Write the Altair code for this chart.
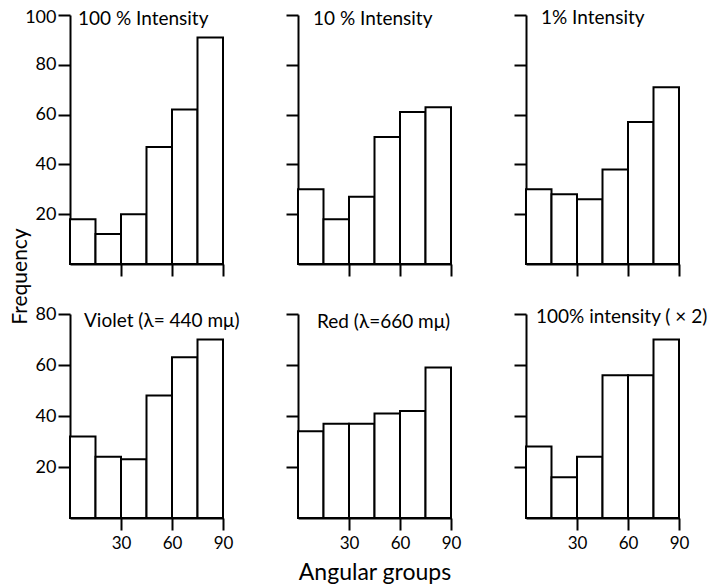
import altair as alt
import pandas as pd

# ---- data ----
bin_starts = [0, 15, 30, 45, 60, 75]
bin_ends = [15, 30, 45, 60, 75, 90]

titles = ["100 % Intensity", "10 % Intensity", "1% Intensity",
          "Violet (λ= 440 mμ)", "Red (λ=660 mμ)", "100% intensity ( × 2)"]
freq_100 = [18, 12, 20, 47, 62, 91]
freq_10 = [30, 18, 27, 51, 61, 63]
freq_1 = [30, 28, 26, 38, 57, 71]
freq_violet = [32, 24, 23, 48, 63, 70]
freq_red = [34, 37, 37, 41, 42, 59]
freq_100x2 = [28, 16, 24, 56, 56, 70]

x_ticks = [30, 60, 90]
y_ticks_top = [20, 40, 60, 80, 100]
y_ticks_bottom = [20, 40, 60, 80]

series = [freq_100, freq_10, freq_1, freq_violet, freq_red, freq_100x2]
# title placement inside each panel (px from plot's left / top, alphabetic baseline)
title_pos = [(8, 10), (15, 10), (15, 8.5), (14, 13), (19, 14), (10, 9)]

FONT = "Lato"


def panel(i):
    row, col = divmod(i, 3)
    freqs = series[i]
    df = pd.DataFrame({"start": bin_starts, "end": bin_ends, "freq": freqs,
                       "base": [0] * len(freqs)})
    ymax = 100 if row == 0 else 80
    yvals = y_ticks_top if row == 0 else y_ticks_bottom
    h = 249 if row == 0 else 204

    xaxis_kw = dict(values=x_ticks, labels=(row == 1), labelFlush=False,
                    labelFontSize=17, labelPadding=5)
    if row == 1 and col == 1:
        xaxis_kw.update(title="Angular groups", titlePadding=10, titleFontSize=23)
    else:
        xaxis_kw.update(title=None)

    yaxis_kw = dict(values=yvals, labels=(col == 0), labelFlush=False,
                    labelFontSize=18,
                    labelOffset={"condition": {"test": "datum.value == 100", "value": 2},
                                 "value": 0})
    if row == 1 and col == 0:
        yaxis_kw.update(title="Frequency", titleX=-50, titleY=-38, titleFontSize=21,
                        titleAlign="center", titleBaseline="middle", titleAngle=270)
    else:
        yaxis_kw.update(title=None)

    bars = alt.Chart(df).mark_rect(
        fill="white", stroke="black", strokeWidth=2
    ).encode(
        x=alt.X("start:Q", scale=alt.Scale(domain=[0, 90], nice=False),
                axis=alt.Axis(**xaxis_kw)),
        x2="end:Q",
        y=alt.Y("freq:Q", scale=alt.Scale(domain=[0, ymax], nice=False),
                axis=alt.Axis(**yaxis_kw)),
        y2="base:Q",
    )
    dx, dy = title_pos[i]
    txt = alt.Chart(pd.DataFrame({"t": [titles[i]]})).mark_text(
        align="left", baseline="alphabetic", font=FONT, fontSize=19, color="black"
    ).encode(text="t:N", x=alt.value(dx), y=alt.value(dy))
    return alt.layer(bars, txt).properties(width=153, height=h)


chart = alt.concat(
    *[panel(i) for i in range(6)],
    columns=3,
    spacing={"row": 50, "column": 75},
    bounds="flush",
).properties(
    padding={"left": 0, "top": 0, "right": 5, "bottom": 5}
).configure_view(
    stroke=None
).configure_axis(
    domainColor="black", domainWidth=2, tickColor="black", tickWidth=2,
    tickSize=12, labelColor="black", labelFont=FONT, labelFontSize=17,
    labelPadding=2, titleFont=FONT, titleFontSize=18, titleColor="black",
    titleFontWeight="normal", grid=False,
)

chart.save("out.html", embed_options={"renderer": "svg", "actions": False})
